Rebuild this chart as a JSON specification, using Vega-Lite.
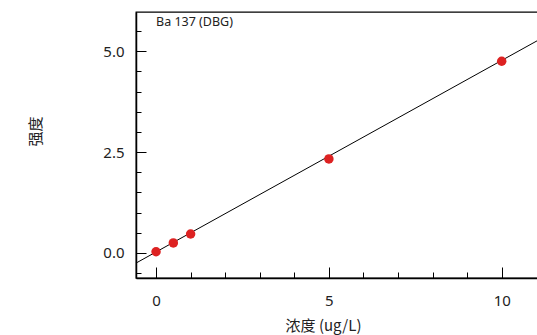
{
  "$schema": "https://vega.github.io/schema/vega-lite/v6.json",
  "width": 402,
  "height": 266,
  "autosize": "none",
  "padding": {"left": 136, "top": 12, "right": 0, "bottom": 57},
  "background": "white",
  "config": {
    "view": {"stroke": "black", "strokeWidth": 1.3},
    "font": "Noto Sans, Noto Sans CJK SC",
    "axis": {"grid": false, "domainColor": "black", "tickColor": "black", "labelColor": "#222", "titleColor": "#222", "labelFont": "Noto Sans", "titleFont": "Noto Sans CJK SC", "titleFontWeight": "normal", "labelOverlap": false}
  },
  "title": {"text": "Ba 137 (DBG)", "anchor": "start", "frame": "group", "orient": "top", "offset": -16, "dx": 20, "fontSize": 12.5, "fontWeight": "normal", "color": "#222", "font": "Noto Sans"},
  "layer": [
    {
      "data": {"values": [{"conc": -0.6, "intensity": -0.26}, {"conc": 11.2, "intensity": 5.34}]},
      "mark": {"type": "line", "color": "black", "strokeWidth": 1, "clip": true},
      "encoding": {
        "x": {"field": "conc", "type": "quantitative", "scale": {"domain": [-0.58, 11.05], "nice": false, "zero": false}},
        "y": {"field": "intensity", "type": "quantitative", "scale": {"domain": [-0.62, 5.97], "nice": false, "zero": false}}
      }
    },
    {
      "data": {"values": [
        {"conc": 0, "intensity": 0.03},
        {"conc": 0.5, "intensity": 0.25},
        {"conc": 1, "intensity": 0.47},
        {"conc": 5, "intensity": 2.33},
        {"conc": 10, "intensity": 4.75}
      ]},
      "mark": {"type": "circle", "color": "#dd2222", "size": 90, "opacity": 1},
      "encoding": {
        "x": {"field": "conc", "type": "quantitative", "scale": {"domain": [-0.58, 11.05], "nice": false, "zero": false},
          "axis": {"orient": "bottom", "values": [0, 1, 2, 3, 4, 5, 6, 7, 8, 9, 10], "format": "d", "labelExpr": "datum.value % 5 === 0 ? datum.label : ''",
            "tickSize": {"condition": {"test": "datum.value % 5 === 0", "value": -11}, "value": -6},
            "ticks": true, "zindex": 1,
            "labelPadding": 26, "labelFontSize": 15, "domainWidth": 1.5, "labelOverlap": false,
            "title": "浓度 (ug/L)", "titleFontSize": 15, "titleX": 187, "titleY": 47, "titleBaseline": "middle", "titleAlign": "center"}},
        "y": {"field": "intensity", "type": "quantitative", "scale": {"domain": [-0.62, 5.97], "nice": false, "zero": false},
          "axis": {"orient": "left", "values": [-0.5, 0, 0.5, 1, 1.5, 2, 2.5, 3, 3.5, 4, 4.5, 5, 5.5], "tickCount": 50, "format": ".1f", "labelExpr": "datum.value % 2.5 === 0 ? datum.label : ''",
            "tickSize": {"condition": {"test": "datum.value % 2.5 === 0", "value": -10}, "value": -5},
            "ticks": true, "zindex": 1,
            "labelPadding": 22, "labelFontSize": 15, "domainWidth": 1.5, "labelOverlap": false,
            "title": "强度", "titleFontSize": 15, "titleX": -101, "titleY": 119, "titleAngle": 270, "titleBaseline": "middle", "titleAlign": "center"}}
      }
    }
  ]
}
